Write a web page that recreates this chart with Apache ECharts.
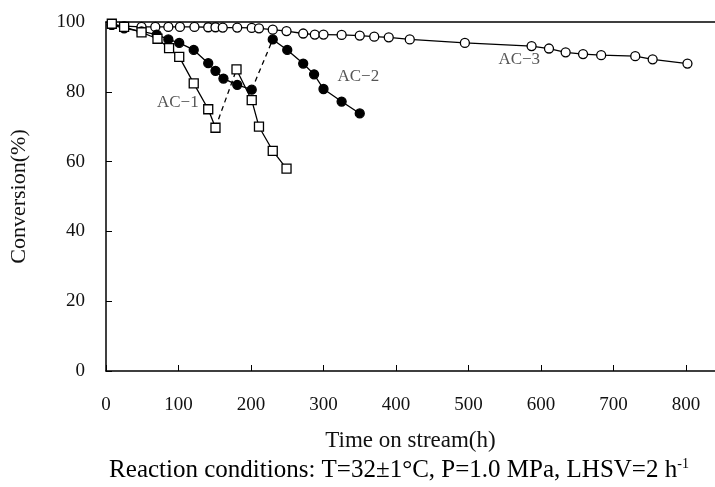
<!DOCTYPE html>
<html>
<head>
<meta charset="utf-8">
<script src="https://cdn.jsdelivr.net/npm/echarts@6/dist/echarts.min.js"></script>
<style>html,body{margin:0;padding:0;background:#fff;}#c{width:715px;height:487px;}</style>
</head>
<body>
<div id="c"></div>
<script>
// ---- data ----
var xTicks = [0, 100, 200, 300, 400, 500, 600, 700, 800];
var yTicks = [0, 20, 40, 60, 80, 100];

var ac1TimeA = [8, 25, 49, 71, 87, 101, 121, 141, 151];
var ac1ConvA = [99.5, 98.6, 97.0, 95.2, 92.5, 90.0, 82.4, 75.0, 69.7];
var ac1TimeB = [180, 201, 211, 230, 249];
var ac1ConvB = [86.4, 77.6, 70.0, 63.1, 58.0];

var ac2TimeA = [8, 25, 49, 70, 86, 101, 121, 141, 151, 162, 181, 201];
var ac2ConvA = [99.2, 98.2, 97.3, 96.4, 95.0, 94.0, 92.0, 88.2, 86.0, 83.8, 82.0, 80.6];
var ac2TimeB = [230, 250, 272, 287, 300, 325, 350];
var ac2ConvB = [95.0, 92.0, 88.1, 85.0, 80.8, 77.2, 73.8];

var ac3Time = [8, 25, 49, 68, 86, 102, 122, 141, 151, 161, 181, 201, 211, 230, 249, 272, 288, 300, 325, 350, 370, 390, 419, 495, 587, 611, 634, 658, 683, 730, 754, 802];
var ac3Conv = [99.2, 98.8, 98.6, 98.6, 98.6, 98.6, 98.6, 98.5, 98.5, 98.4, 98.4, 98.3, 98.2, 97.8, 97.4, 96.7, 96.4, 96.4, 96.3, 96.1, 95.8, 95.6, 95.0, 94.0, 93.1, 92.4, 91.3, 90.8, 90.5, 90.2, 89.3, 88.1];

var seriesLabels = ['AC-1', 'AC-2', 'AC-3'];
var labelAnchors = [[99, 77], [348, 84.5], [570, 89.2]];

function zip(a, b) { return a.map(function (v, i) { return [v, b[i]]; }); }

var FONT = 'Liberation Serif';
var chart = echarts.init(document.getElementById('c'), null, { renderer: 'canvas' });

function lineSeries(data, symbol, fill, dashed, showSym) {
  return {
    type: 'line', data: data, xAxisIndex: 0, yAxisIndex: 0,
    symbol: showSym ? symbol : 'none',
    symbolSize: 9,
    showAllSymbol: true,
    animation: false,
    lineStyle: { color: '#000', width: 1.3, type: dashed ? [5, 4] : 'solid' },
    itemStyle: { color: fill, borderColor: '#000', borderWidth: 1.3 },
    z: 2
  };
}

var option = {
  animation: false,
  backgroundColor: '#fff',
  grid: { left: 106, top: 22, right: 0, bottom: 116, containLabel: false, outerBoundsMode: 'none' },
  xAxis: [{
    type: 'value', min: 0, max: 840, interval: 100,
    axisLine: { show: true, lineStyle: { color: '#000', width: 1.5 } },
    axisTick: { show: true, inside: true, length: 6, lineStyle: { color: '#000', width: 1 } },
    axisLabel: {
      margin: 25, color: '#111', fontFamily: FONT, fontSize: 19,
      formatter: function (v) { return xTicks.indexOf(v) >= 0 ? String(v) : ''; }
    },
    splitLine: { show: false },
    name: 'Time on stream(h)', nameLocation: 'middle', nameGap: 58,
    nameTextStyle: { color: '#111', fontFamily: FONT, fontSize: 23 }
  }, {
    type: 'value', position: 'top', min: 0, max: 840,
    axisLine: { show: true, onZero: false, lineStyle: { color: '#000', width: 1.5 } },
    axisTick: { show: false }, axisLabel: { show: false }, splitLine: { show: false }
  }],
  yAxis: [{
    type: 'value', min: 0, max: 100, interval: 20,
    axisLine: { show: true, lineStyle: { color: '#000', width: 1.5 } },
    axisTick: { show: true, inside: true, length: 6, lineStyle: { color: '#000', width: 1 } },
    axisLabel: {
      margin: 21, color: '#111', fontFamily: FONT, fontSize: 19,
      formatter: function (v) { return yTicks.indexOf(v) >= 0 ? String(v) : ''; }
    },
    splitLine: { show: false },
    name: 'Conversion(%)', nameLocation: 'middle', nameGap: 76, nameRotate: 90,
    nameTextStyle: { color: '#111', fontFamily: FONT, fontSize: 22 }
  }],
  series: [
    lineSeries(zip(ac3Time, ac3Conv), 'circle', '#fff', false, true),
    lineSeries(zip(ac2TimeA, ac2ConvA), 'circle', '#000', false, true),
    lineSeries([[ac2TimeA[ac2TimeA.length - 1], ac2ConvA[ac2ConvA.length - 1]], [ac2TimeB[0], ac2ConvB[0]]], 'circle', '#000', true, false),
    lineSeries(zip(ac2TimeB, ac2ConvB), 'circle', '#000', false, true),
    lineSeries(zip(ac1TimeA, ac1ConvA), 'rect', '#fff', false, true),
    lineSeries([[ac1TimeA[ac1TimeA.length - 1], ac1ConvA[ac1ConvA.length - 1]], [ac1TimeB[0], ac1ConvB[0]]], 'rect', '#fff', true, false),
    lineSeries(zip(ac1TimeB, ac1ConvB), 'rect', '#fff', false, true)
  ]
};
chart.setOption(option);

var graphics = seriesLabels.map(function (t, i) {
  var p = chart.convertToPixel({ gridIndex: 0 }, labelAnchors[i]);
  return {
    type: 'text', x: p[0], y: p[1], z: 10,
    style: { text: t.replace('-', '\u2212'), fill: '#555', font: '17px "' + FONT + '"', align: 'center', verticalAlign: 'middle' }
  };
});
graphics.push({
  type: 'text', x: 399, y: 470, z: 10,
  style: {
    text: '{a|Reaction conditions: T=32\u00b11\u00b0C, P=1.0 MPa, LHSV=2 h}{s|-1}',
    align: 'center', verticalAlign: 'middle',
    rich: {
      a: { fontFamily: FONT, fontSize: 25, fill: '#000', color: '#000' },
      s: { fontFamily: FONT, fontSize: 14, fill: '#000', color: '#000', verticalAlign: 'top', padding: [0, 0, 12, 0] }
    }
  }
});
chart.setOption({ graphic: graphics });
</script>
</body>
</html>
